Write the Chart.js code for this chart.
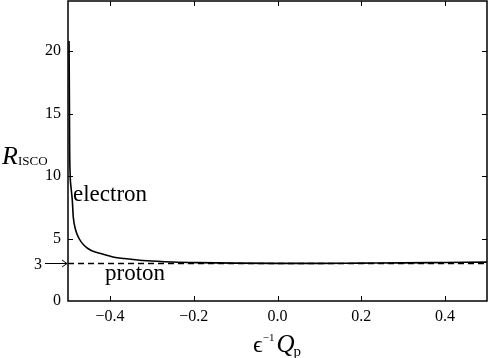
<!DOCTYPE html>
<html>
<head>
<meta charset="utf-8">
<script src="https://cdn.jsdelivr.net/npm/chart.js@4/dist/chart.umd.min.js"></script>
<style>
html,body{margin:0;padding:0;background:#fff;}
canvas{display:block;}
</style>
</head>
<body>
<canvas id="c" width="490" height="358"></canvas>
<script>
// ---- data ----
const xValues = [-0.4975, -0.4965, -0.496, -0.495, -0.4925, -0.4897, -0.4874, -0.4816, -0.4737, -0.4618, -0.4458, -0.422, -0.39, -0.366, -0.311, -0.25, -0.191, -0.1, 0.0, 0.1, 0.2, 0.3, 0.4, 0.5];
const electronR = [20.8, 15.0, 12.0, 10.2, 9.0, 8.05, 6.72, 5.66, 5.0, 4.46, 4.06, 3.8, 3.5, 3.4, 3.22, 3.12, 3.07, 3.03, 3.01, 3.01, 3.03, 3.05, 3.08, 3.11];
const protonX = [-0.5, 0.0, 0.5];
const protonR = [3, 3, 3];
const xTicks = [-0.4, -0.2, 0.0, 0.2, 0.4];
const yTicks = [0, 5, 10, 15, 20];
const markedY = 3;

const SERIF = '"Liberation Serif", "DejaVu Serif", serif';

const decor = {
  id: 'decor',
  afterDraw(chart) {
    const ctx = chart.ctx;
    const a = chart.chartArea;
    const xs = chart.scales.x, ys = chart.scales.y;
    ctx.save();
    ctx.strokeStyle = '#000';
    ctx.fillStyle = '#000';
    ctx.lineWidth = 1.5;
    // frame
    ctx.strokeRect(a.left, a.top, a.right - a.left, a.bottom - a.top);
    // inward ticks
    ctx.lineWidth = 1;
    const tl = 5;
    xTicks.forEach(v => {
      const px = Math.round(xs.getPixelForValue(v)) + 0.5;
      ctx.beginPath();
      ctx.moveTo(px, a.bottom); ctx.lineTo(px, a.bottom - tl);
      ctx.moveTo(px, a.top); ctx.lineTo(px, a.top + tl);
      ctx.stroke();
    });
    yTicks.forEach(v => {
      if (v === 0) return;
      const py = Math.round(ys.getPixelForValue(v)) + 0.5;
      ctx.beginPath();
      ctx.moveTo(a.left, py); ctx.lineTo(a.left + tl, py);
      ctx.moveTo(a.right, py); ctx.lineTo(a.right - tl, py);
      ctx.stroke();
    });
    // arrow at y = 3
    const p3 = ys.getPixelForValue(markedY);
    ctx.font = '16px ' + SERIF;
    ctx.textAlign = 'right';
    ctx.textBaseline = 'middle';
    ctx.fillText(String(markedY), 42, p3 + 1);
    ctx.beginPath();
    ctx.moveTo(45, p3); ctx.lineTo(a.left - 1, p3);
    ctx.moveTo(a.left - 6, p3 - 3.5); ctx.lineTo(a.left - 1, p3); ctx.lineTo(a.left - 6, p3 + 3.5);
    ctx.stroke();
    // series labels
    ctx.textAlign = 'left';
    ctx.textBaseline = 'alphabetic';
    ctx.font = '23px ' + SERIF;
    ctx.fillText('electron', 73, 201);
    ctx.fillText('proton', 105, 280);
    // y title R_ISCO
    ctx.font = 'italic 26px ' + SERIF;
    ctx.fillText('R', 2, 164);
    ctx.font = '13px ' + SERIF;
    ctx.fillText('ISCO', 18, 165);
    // x title ϵ^{-1} Q_p
    let x0 = 253, base = 352;
    ctx.font = '24px ' + SERIF;
    ctx.fillText('\u03F5', x0, base);
    let w = ctx.measureText('\u03F5').width;
    ctx.font = '11px ' + SERIF;
    ctx.fillText('\u2212' + '1', x0 + w, base - 11);
    let w2 = ctx.measureText('\u22121').width;
    ctx.font = 'italic 25px ' + SERIF;
    const qx = x0 + w + w2 + 2;
    ctx.fillText('Q', qx, base);
    const wq = ctx.measureText('Q').width;
    ctx.font = '15px ' + SERIF;
    ctx.fillText('p', qx + wq - 1, base + 4);
    ctx.restore();
  }
};

new Chart(document.getElementById('c'), {
  type: 'scatter',
  data: {
    datasets: [
      {
        label: 'electron',
        data: xValues.map((x, i) => ({x: x, y: electronR[i]})),
        showLine: true,
        borderColor: '#000',
        borderWidth: 1.6,
        pointRadius: 0,
        cubicInterpolationMode: 'monotone',
        clip: 2
      },
      {
        label: 'proton',
        data: protonX.map((x, i) => ({x: x, y: protonR[i]})),
        showLine: true,
        borderColor: '#000',
        borderWidth: 1.4,
        borderDash: [6, 4],
        pointRadius: 0
      }
    ]
  },
  options: {
    responsive: false,
    devicePixelRatio: 1,
    animation: false,
    layout: {padding: {top: 1, right: 3, left: 0, bottom: 0}},
    plugins: {legend: {display: false}, tooltip: {enabled: false}},
    scales: {
      x: {
        type: 'linear', min: -0.5, max: 0.5,
        afterBuildTicks: s => { s.ticks = xTicks.map(v => ({value: v})); },
        afterFit: s => { s.height = 57; s.paddingLeft = 0; s.paddingRight = 0; },
        grid: {display: false, drawTicks: false},
        border: {display: false},
        ticks: {
          padding: 6,
          color: '#000',
          font: {family: SERIF, size: 16},
          maxRotation: 0,
          callback: v => (v < 0 ? '\u2212' : '') + Math.abs(v).toFixed(1)
        }
      },
      y: {
        type: 'linear', min: 0, max: 24,
        afterBuildTicks: s => { s.ticks = yTicks.map(v => ({value: v})); },
        afterFit: s => { s.width = 68; s.paddingTop = 0; s.paddingBottom = 0; },
        grid: {display: false, drawTicks: false},
        border: {display: false},
        ticks: {
          padding: 7,
          color: '#000',
          font: {family: SERIF, size: 16},
          callback: v => String(v)
        }
      }
    }
  },
  plugins: [decor]
});
</script>
</body>
</html>
